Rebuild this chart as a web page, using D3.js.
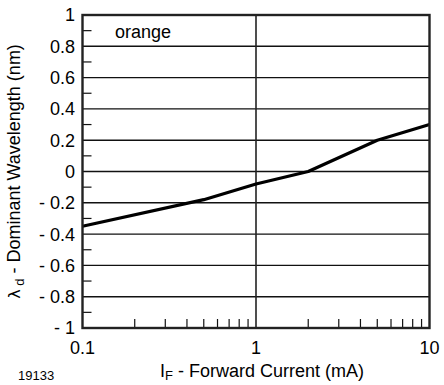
<!DOCTYPE html>
<html>
<head>
<meta charset="utf-8">
<script src="https://cdn.jsdelivr.net/npm/d3@7"></script>
<style>
  body { margin: 0; background: #fff; }
  svg { font-family: "Liberation Sans", Arial, sans-serif; }
</style>
</head>
<body>
<div id="chart"></div>
<script>
// data
const current = [0.1, 0.5, 1, 2, 5, 10];
const wavelengthShift = [-0.35, -0.18, -0.08, 0.0, 0.2, 0.3];
const xTickValues = [0.1, 1, 10];
const yTickValues = [1, 0.8, 0.6, 0.4, 0.2, 0, -0.2, -0.4, -0.6, -0.8, -1];
const yMinorValues = [0.9, 0.7, 0.5, 0.3, 0.1, -0.1, -0.3, -0.5, -0.7, -0.9];
const xMinorValues = [0.2, 0.3, 0.4, 0.5, 0.6, 0.7, 0.8, 0.9, 2, 3, 4, 5, 6, 7, 8, 9];

const width = 444, height = 385;
const plotLeft = 82.5, plotRight = 429.5, plotTop = 15, plotBottom = 328;

const svg = d3.select("#chart").append("svg")
  .attr("width", width)
  .attr("height", height);

const x = d3.scaleLog().domain([0.1, 10]).range([plotLeft, plotRight]);
const y = d3.scaleLinear().domain([-1, 1]).range([plotBottom, plotTop]);

// horizontal gridlines
svg.append("g").selectAll("line")
  .data(yTickValues.filter(d => d !== 1 && d !== -1))
  .join("line")
  .attr("x1", plotLeft).attr("x2", plotRight)
  .attr("y1", d => y(d)).attr("y2", d => y(d))
  .attr("stroke", "#111").attr("stroke-width", 1.4);

// vertical gridline at 1
svg.append("line")
  .attr("x1", x(1)).attr("x2", x(1))
  .attr("y1", plotTop).attr("y2", plotBottom)
  .attr("stroke", "#222").attr("stroke-width", 1.6);

// minor ticks
svg.append("g").selectAll("line")
  .data(yMinorValues)
  .join("line")
  .attr("x1", plotLeft).attr("x2", plotLeft + 9)
  .attr("y1", d => y(d)).attr("y2", d => y(d))
  .attr("stroke", "#111").attr("stroke-width", 1.2);

svg.append("g").selectAll("line")
  .data(xMinorValues)
  .join("line")
  .attr("x1", d => x(d)).attr("x2", d => x(d))
  .attr("y1", plotBottom).attr("y2", plotBottom - 9)
  .attr("stroke", "#111").attr("stroke-width", 1.2);

// curve
const line = d3.line()
  .x((d, i) => x(current[i]))
  .y(d => y(d));
svg.append("path")
  .datum(wavelengthShift)
  .attr("d", line)
  .attr("fill", "none")
  .attr("stroke", "#000")
  .attr("stroke-width", 3.2)
  .attr("stroke-linejoin", "round");

// frame
svg.append("rect")
  .attr("x", plotLeft).attr("y", plotTop)
  .attr("width", plotRight - plotLeft).attr("height", plotBottom - plotTop)
  .attr("fill", "none")
  .attr("stroke", "#222").attr("stroke-width", 2.4);

// y tick labels
svg.append("g").selectAll("text")
  .data(yTickValues)
  .join("text")
  .attr("x", 75)
  .attr("y", d => y(d))
  .attr("dy", "0.36em")
  .attr("text-anchor", "end")
  .attr("font-size", 18)
  .text(d => d < 0 ? "- " + d3.format("")(-d) : d3.format("")(d));

// x tick labels
svg.append("g").selectAll("text")
  .data(xTickValues)
  .join("text")
  .attr("x", d => x(d))
  .attr("y", 354)
  .attr("text-anchor", "middle")
  .attr("font-size", 18)
  .text(d => d3.format("")(d));

// x title
const xt = svg.append("text")
  .attr("x", 262).attr("y", 377)
  .attr("text-anchor", "middle")
  .attr("font-size", 18);
xt.append("tspan").text("I");
xt.append("tspan").attr("font-size", 13).attr("dy", 3).text("F");
xt.append("tspan").attr("dy", -3).text(" - Forward Current (mA)");

// y title
const yt = svg.append("text")
  .attr("transform", `translate(20, ${(plotTop + plotBottom) / 2}) rotate(-90)`)
  .attr("text-anchor", "middle")
  .attr("font-size", 18);
yt.append("tspan").attr("font-family", "DejaVu Sans").attr("font-size", 16).text("λ");
yt.append("tspan").attr("font-size", 13).attr("dy", 4).text(" d");
yt.append("tspan").attr("dy", -4).text(" - Dominant Wavelength (nm)");

// legend label
svg.append("text")
  .attr("x", 115).attr("y", 38)
  .attr("font-size", 18)
  .text("orange");

// figure number
svg.append("text")
  .attr("x", 18).attr("y", 380)
  .attr("font-size", 13)
  .text("19133");
</script>
</body>
</html>
